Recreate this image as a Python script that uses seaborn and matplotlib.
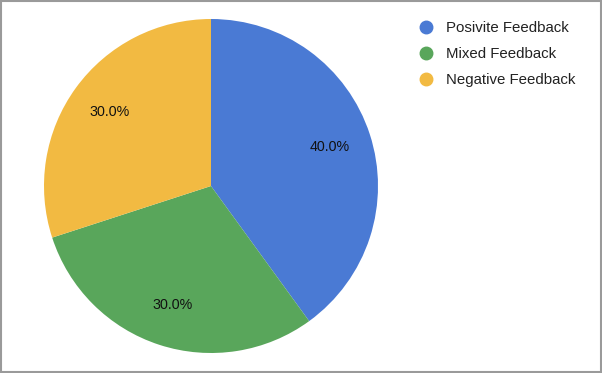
import matplotlib
matplotlib.use("Agg")
import matplotlib.pyplot as plt
from matplotlib.lines import Line2D
from matplotlib.patches import Rectangle
import seaborn as sns

labels = ["Posivite Feedback", "Mixed Feedback", "Negative Feedback"]
shares = [40, 30, 30]
colors = ["#4A7AD4", "#59A65B", "#F2BA42"]

sns.set_theme(style="white")
plt.rcParams["font.family"] = ["Liberation Sans", "DejaVu Sans"]

fig = plt.figure(figsize=(6.02, 3.73), dpi=100)
fig.patch.set_facecolor("white")

# pie centred at (211, 186) px, radius ~167 px
ax = fig.add_axes([44 / 602, 20 / 373, 334 / 602, 334 / 373])
palette = sns.color_palette(colors)
wedges, _, autotexts = ax.pie(
    shares, colors=palette, startangle=90, counterclock=False,
    autopct="%.1f%%", pctdistance=0.75, radius=1,
    textprops={"fontsize": 10.3, "color": "#111111"},
    wedgeprops={"linewidth": 0},
)
ax.set_xlim(-1, 1)
ax.set_ylim(-1, 1)
ax.set_axis_off()

handles = [
    Line2D([0], [0], marker="o", linestyle="", markersize=9,
           markerfacecolor=c, markeredgecolor=c)
    for c in palette
]
fig.legend(handles, labels, loc="upper left",
           bbox_to_anchor=(411 / 602, 1 - 15 / 373),
           frameon=False, fontsize=10.8, handletextpad=0.75,
           labelspacing=0.8, handlelength=1.2, borderaxespad=0,
           labelcolor="#222222")

# thin grey frame around the whole figure
fig.patches.append(Rectangle((0.001, 0.002), 0.997, 0.995, transform=fig.transFigure,
                             fill=False, edgecolor="#9a9a9a", linewidth=1.5))

fig.savefig("out.png", dpi=100)
